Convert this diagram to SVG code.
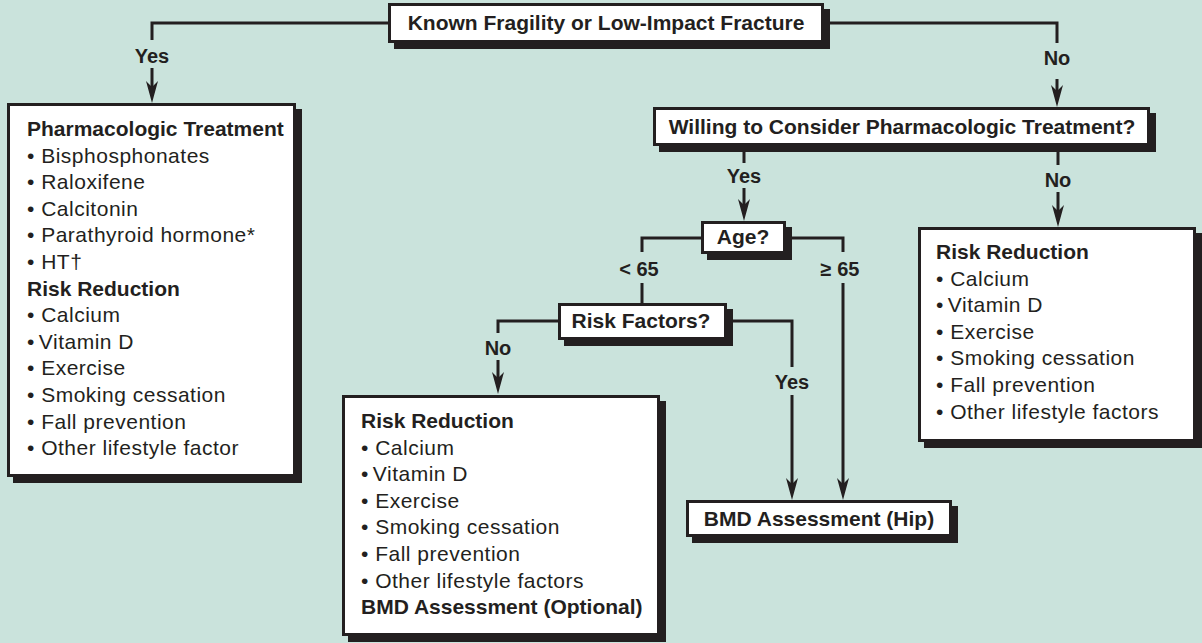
<svg xmlns="http://www.w3.org/2000/svg" width="1202" height="643" viewBox="0 0 1202 643">
<style>
.box{fill:#fff;stroke:#231f20;stroke-width:3}
.sh{fill:#231f20}
.ln{fill:none;stroke:#231f20;stroke-width:3}
.t{font-family:"Liberation Sans",Arial,Helvetica,sans-serif;font-size:21px;fill:#231f20}
.b{font-weight:bold}
.c{text-anchor:middle}
.it{letter-spacing:0.5px}
.lbl{font-family:"Liberation Sans",Arial,Helvetica,sans-serif;font-size:20px;font-weight:bold;fill:#231f20;text-anchor:middle}
</style>
<defs>
<marker id="ah" viewBox="0 0 22 14" refX="12" refY="7" markerWidth="22" markerHeight="14" markerUnits="userSpaceOnUse" orient="auto">
<path d="M0,1 L22,7 L0,13 L6,7 Z" fill="#231f20"/>
</marker>
</defs>
<rect x="0" y="0" width="1202" height="643" fill="#cae3dc"/>

<g id="connectors">
<path class="ln" d="M390,23 H152 V40"/>
<path class="ln" d="M152,68 V93" marker-end="url(#ah)"/>
<path class="ln" d="M822,23 H1057 V43"/>
<path class="ln" d="M1057,79 V97" marker-end="url(#ah)"/>
<path class="ln" d="M744,146 V163"/>
<path class="ln" d="M744,188 V211" marker-end="url(#ah)"/>
<path class="ln" d="M1058,146 V165"/>
<path class="ln" d="M1058,192 V217" marker-end="url(#ah)"/>
<path class="ln" d="M703,238 H642 V252"/>
<path class="ln" d="M642,283 V304"/>
<path class="ln" d="M784,238 H843 V252"/>
<path class="ln" d="M843,283 V490" marker-end="url(#ah)"/>
<path class="ln" d="M725,321 H792 V367"/>
<path class="ln" d="M792,395 V490" marker-end="url(#ah)"/>
<path class="ln" d="M560,321 H498 V333"/>
<path class="ln" d="M498,360 V384" marker-end="url(#ah)"/>
<text class="lbl" x="152" y="63">Yes</text>
<text class="lbl" x="1057" y="65">No</text>
<text class="lbl" x="744" y="183">Yes</text>
<text class="lbl" x="1058" y="187">No</text>
<text class="lbl" x="639" y="276">&lt; 65</text>
<text class="lbl" x="840" y="276">≥ 65</text>
<text class="lbl" x="792" y="389">Yes</text>
<text class="lbl" x="498" y="355">No</text>
</g>

<g id="n-fracture">
<rect class="sh" x="394" y="9" width="436" height="40"/>
<rect class="box" x="389.5" y="4.5" width="433" height="37"/>
<text class="t b c" x="606" y="30">Known Fragility or Low-Impact Fracture</text>
</g>

<g id="n-pharm">
<rect class="sh" x="13" y="109" width="289" height="374"/>
<rect class="box" x="8.5" y="104.5" width="286" height="371"/>
<text class="t b" x="27" y="136">Pharmacologic Treatment</text>
<text class="t it" x="27" y="162.6">• Bisphosphonates</text>
<text class="t it" x="27" y="189.2">• Raloxifene</text>
<text class="t it" x="27" y="215.8">• Calcitonin</text>
<text class="t it" x="27" y="242.4">• Parathyroid hormone*</text>
<text class="t it" x="27" y="269">• HT†</text>
<text class="t b" x="27" y="295.6">Risk Reduction</text>
<text class="t it" x="27" y="322.2">• Calcium</text>
<text class="t it" x="27" y="348.8">•<tspan dx="4">Vitamin D</tspan></text>
<text class="t it" x="27" y="375.4">• Exercise</text>
<text class="t it" x="27" y="402">• Smoking cessation</text>
<text class="t it" x="27" y="428.6">• Fall prevention</text>
<text class="t it" x="27" y="455.2">• Other lifestyle factor</text>
</g>

<g id="n-willing">
<rect class="sh" x="659" y="113" width="497" height="39"/>
<rect class="box" x="654.5" y="108.5" width="494" height="36"/>
<text class="t b c" x="902" y="134">Willing to Consider Pharmacologic Treatment?</text>
</g>

<g id="n-age">
<rect class="sh" x="707" y="227" width="85" height="33"/>
<rect class="box" x="702.5" y="222.5" width="82" height="30"/>
<text class="t b c" x="743" y="244">Age?</text>
</g>

<g id="n-risk-factors">
<rect class="sh" x="564" y="309" width="169" height="37"/>
<rect class="box" x="559.5" y="304.5" width="166" height="34"/>
<text class="t b c" x="641" y="328">Risk Factors?</text>
</g>

<g id="n-risk-mid">
<rect class="sh" x="348" y="401" width="318" height="241"/>
<rect class="box" x="343.5" y="396.5" width="315" height="238"/>
<text class="t b" x="361" y="428">Risk Reduction</text>
<text class="t it" x="361" y="454.6">• Calcium</text>
<text class="t it" x="361" y="481.2">•<tspan dx="4">Vitamin D</tspan></text>
<text class="t it" x="361" y="507.8">• Exercise</text>
<text class="t it" x="361" y="534.4">• Smoking cessation</text>
<text class="t it" x="361" y="561">• Fall prevention</text>
<text class="t it" x="361" y="587.6">• Other lifestyle factors</text>
<text class="t b" x="361" y="614.2">BMD Assessment (Optional)</text>
</g>

<g id="n-risk-right">
<rect class="sh" x="924" y="233" width="278" height="215"/>
<rect class="box" x="919.5" y="228.5" width="275" height="212"/>
<text class="t b" x="936" y="259">Risk Reduction</text>
<text class="t it" x="936" y="285.6">• Calcium</text>
<text class="t it" x="936" y="312.2">•<tspan dx="4">Vitamin D</tspan></text>
<text class="t it" x="936" y="338.8">• Exercise</text>
<text class="t it" x="936" y="365.4">• Smoking cessation</text>
<text class="t it" x="936" y="392">• Fall prevention</text>
<text class="t it" x="936" y="418.6">• Other lifestyle factors</text>
</g>

<g id="n-bmd-hip">
<rect class="sh" x="692" y="506" width="266" height="37"/>
<rect class="box" x="687.5" y="501.5" width="263" height="34"/>
<text class="t b c" x="819" y="526">BMD Assessment (Hip)</text>
</g>
</svg>
